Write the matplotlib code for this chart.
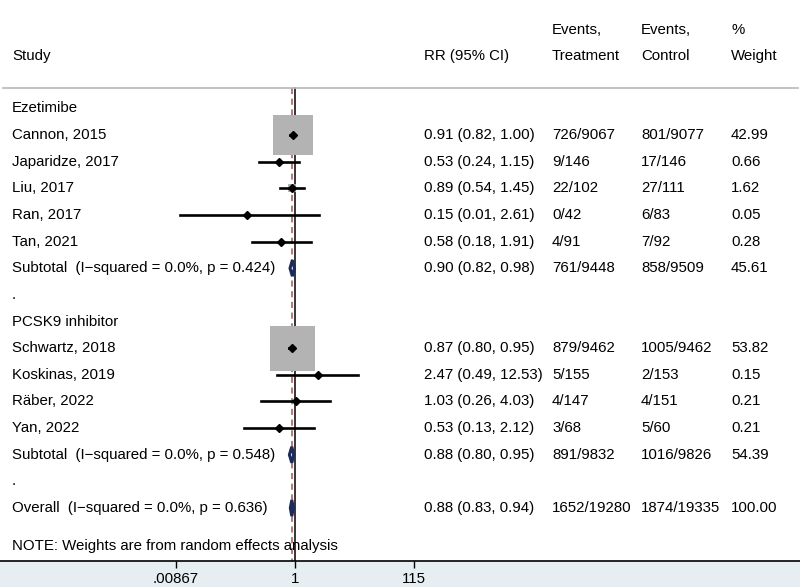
import numpy as np
import matplotlib.pyplot as plt
from matplotlib.patches import Polygon
from matplotlib.transforms import blended_transform_factory

plt.rcParams["font.family"] = ["Liberation Sans", "DejaVu Sans"]

# study-level data
groups = ["Ezetimibe", "PCSK9 inhibitor"]
group_sizes = [5, 4]
studies = ["Cannon, 2015", "Japaridze, 2017", "Liu, 2017", "Ran, 2017", "Tan, 2021",
           "Schwartz, 2018", "Koskinas, 2019", "Räber, 2022", "Yan, 2022"]
rr = [0.91, 0.53, 0.89, 0.15, 0.58, 0.87, 2.47, 1.03, 0.53]
ci_lo = [0.82, 0.24, 0.54, 0.01, 0.18, 0.80, 0.49, 0.26, 0.13]
ci_hi = [1.00, 1.15, 1.45, 2.61, 1.91, 0.95, 12.53, 4.03, 2.12]
events_trt = ["726/9067", "9/146", "22/102", "0/42", "4/91",
              "879/9462", "5/155", "4/147", "3/68"]
events_ctl = ["801/9077", "17/146", "27/111", "6/83", "7/92",
              "1005/9462", "2/153", "4/151", "5/60"]
weights = [42.99, 0.66, 1.62, 0.05, 0.28, 53.82, 0.15, 0.21, 0.21]

# subgroup and overall pooled estimates
sub_labels = ["Subtotal  (I\u2212squared = 0.0%, p = 0.424)",
              "Subtotal  (I\u2212squared = 0.0%, p = 0.548)"]
sub_rr = [0.90, 0.88]
sub_lo = [0.82, 0.80]
sub_hi = [0.98, 0.95]
sub_trt = ["761/9448", "891/9832"]
sub_ctl = ["858/9509", "1016/9826"]
sub_w = [45.61, 54.39]

overall_label = "Overall  (I\u2212squared = 0.0%, p = 0.636)"
overall_rr, overall_lo, overall_hi = 0.88, 0.83, 0.94
overall_trt, overall_ctl, overall_w = "1652/19280", "1874/19335", 100.00

tick_vals = [1 / 115, 1, 115]
tick_labels = [".00867", "1", "115"]

FS = 10.8
col_x = {"rr": 424 / 800, "trt": 552 / 800, "ctl": 641 / 800, "w": 731 / 800}


def fmt_rr(e, lo, hi):
    return "%.2f (%.2f, %.2f)" % (e, lo, hi)


def main():
    fig = plt.figure(figsize=(8, 5.87), dpi=100, facecolor="#e6eef2")
    ax = fig.add_axes([0, 26 / 587, 1, 561 / 587])
    ax.set_facecolor("white")
    ax.set_xscale("log")
    ax.set_xlim(np.exp(-295 / 25.08), np.exp(505 / 25.08))
    ax.set_ylim(16.987, -4.064)
    tr = blended_transform_factory(ax.transAxes, ax.transData)

    for s in ["top", "left", "right"]:
        ax.spines[s].set_visible(False)
    ax.spines["bottom"].set_linewidth(1.2)
    ax.set_yticks([])
    ax.set_xticks(tick_vals)
    ax.set_xticklabels(tick_labels, fontsize=FS)
    ax.minorticks_off()
    ax.tick_params(axis="x", direction="out", length=5, width=1, pad=3)

    # header
    ax.text(12 / 800, -1.98, "Study", transform=tr, fontsize=FS, va="center")
    ax.text(col_x["rr"], -1.98, "RR (95% CI)", transform=tr, fontsize=FS, va="center")
    ax.text(col_x["trt"], -2.95, "Events,", transform=tr, fontsize=FS, va="center")
    ax.text(col_x["trt"], -1.98, "Treatment", transform=tr, fontsize=FS, va="center")
    ax.text(col_x["ctl"], -2.95, "Events,", transform=tr, fontsize=FS, va="center")
    ax.text(col_x["ctl"], -1.98, "Control", transform=tr, fontsize=FS, va="center")
    ax.text(col_x["w"], -2.95, "%", transform=tr, fontsize=FS, va="center")
    ax.text(col_x["w"], -1.98, "Weight", transform=tr, fontsize=FS, va="center")
    ax.plot([0.004, 0.998], [-0.76, -0.76], transform=tr, color="#b8b8b8", lw=1.2,
            clip_on=False)

    # reference lines
    ax.plot([1, 1], [-0.76, 16.987], color="black", lw=1.1, zorder=1)
    ax.plot([overall_rr, overall_rr], [-0.76, 16.987], color="#a05555", lw=1.1,
            ls=(0, (4, 3)), zorder=1)

    def row_text(y, label, rtxt, trt, ctl, w):
        ax.text(12 / 800, y, label, transform=tr, fontsize=FS, va="center")
        ax.text(col_x["rr"], y, rtxt, transform=tr, fontsize=FS, va="center")
        ax.text(col_x["trt"], y, trt, transform=tr, fontsize=FS, va="center")
        ax.text(col_x["ctl"], y, ctl, transform=tr, fontsize=FS, va="center")
        ax.text(col_x["w"], y, "%.2f" % w, transform=tr, fontsize=FS, va="center")

    def diamond(y, e, lo, hi):
        h = 0.3
        ax.add_patch(Polygon([(lo, y), (e, y - h), (hi, y), (e, y + h)], closed=True,
                             facecolor="white", edgecolor="#1c2a5c", lw=2.2, zorder=4))

    row = 0
    k = 0
    for g, n in enumerate(group_sizes):
        ax.text(12 / 800, row, groups[g], transform=tr, fontsize=FS, va="center")
        row += 1
        for j in range(n):
            i = k + j
            side = 32.4 * np.sqrt(weights[i] / 53.82)
            ax.scatter([rr[i]], [row], s=side ** 2, marker="s", color="#b3b3b3",
                       linewidths=0, zorder=2)
            ax.plot([ci_lo[i], ci_hi[i]], [row, row], color="black", lw=1.9, zorder=3)
            ax.plot([rr[i]], [row], marker="D", color="black", ms=4.5, zorder=5)
            row_text(row, studies[i], fmt_rr(rr[i], ci_lo[i], ci_hi[i]),
                     events_trt[i], events_ctl[i], weights[i])
            row += 1
        k += n
        diamond(row, sub_rr[g], sub_lo[g], sub_hi[g])
        row_text(row, sub_labels[g], fmt_rr(sub_rr[g], sub_lo[g], sub_hi[g]),
                 sub_trt[g], sub_ctl[g], sub_w[g])
        row += 1
        ax.text(12 / 800, row, ".", transform=tr, fontsize=FS, va="center")
        row += 1

    diamond(row, overall_rr, overall_lo, overall_hi)
    row_text(row, overall_label, fmt_rr(overall_rr, overall_lo, overall_hi),
             overall_trt, overall_ctl, overall_w)

    ax.text(12 / 800, 16.42, "NOTE: Weights are from random effects analysis",
            transform=tr, fontsize=FS, va="center")

    fig.savefig("out.png", dpi=100, facecolor=fig.get_facecolor())


if __name__ == "__main__":
    main()
